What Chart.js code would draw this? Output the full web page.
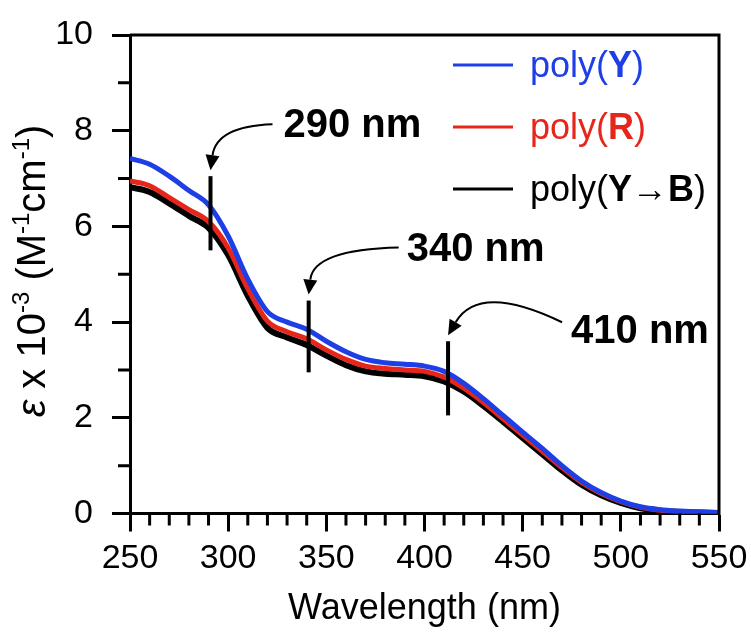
<!DOCTYPE html>
<html>
<head>
<meta charset="utf-8">
<script src="https://cdn.jsdelivr.net/npm/chart.js@4.4.0/dist/chart.umd.min.js"></script>
<style>
  html, body { margin: 0; padding: 0; background: #fff; }
  #contenedor { width: 751px; height: 639px; }
</style>
</head>
<body>
<div id="contenedor"><canvas id="grafico"></canvas></div>
<script>
const longitudes = [250, 260, 270, 280, 290, 300, 310, 320, 330, 340, 350, 360, 370, 380, 390, 400,
                    410, 420, 430, 440, 450, 460, 470, 480, 490, 500, 510, 520, 530, 540, 550];
const polyY  = [7.42, 7.30, 7.05, 6.75, 6.45, 5.80, 4.90, 4.22, 4.00, 3.85, 3.60, 3.38, 3.22, 3.15, 3.12, 3.08,
                2.97, 2.72, 2.40, 2.05, 1.70, 1.36, 1.00, 0.68, 0.44, 0.26, 0.14, 0.08, 0.05, 0.03, 0.02];
const polyR  = [6.95, 6.85, 6.60, 6.35, 6.10, 5.55, 4.70, 4.02, 3.80, 3.65, 3.42, 3.22, 3.08, 3.03, 3.00, 2.97,
                2.85, 2.62, 2.32, 1.98, 1.64, 1.30, 0.96, 0.65, 0.42, 0.25, 0.13, 0.07, 0.04, 0.03, 0.02];
const polyYB = [6.82, 6.72, 6.48, 6.22, 5.97, 5.40, 4.55, 3.88, 3.68, 3.52, 3.30, 3.10, 2.97, 2.92, 2.90, 2.87,
                2.76, 2.55, 2.25, 1.92, 1.58, 1.24, 0.90, 0.60, 0.38, 0.22, 0.11, 0.06, 0.03, 0.02, 0.01];

const ticksX = [250, 300, 350, 400, 450, 500, 550];
const ticksY = [0, 2, 4, 6, 8, 10];

// marcas verticales y sus etiquetas
const marcas = [291, 341, 412];
const marcasDesde = [5.5, 2.95, 2.05];
const marcasHasta = [7.05, 4.45, 3.6];
const etiquetas = ['290 nm', '340 nm', '410 nm'];

const AZUL = '#1f3fe6';
const ROJO = '#e6261a';
const FUENTE = '"Liberation Sans", Arial, Helvetica, sans-serif';

function puntos(serie) {
    return longitudes.map((x, i) => ({ x: x, y: serie[i] }));
}

// etiqueta y flecha relativas al extremo superior de cada marca (px)
const flechas = [
    { lx: 73, ly: -50, sx: 62, sy: -52, cx: 6, cy: -50 },
    { lx: 98, ly: -51, sx: 90, sy: -53, cx: 5, cy: -51 },
    { lx: 123, ly: -9, sx: 114, sy: -19, cx: 31, cy: -59 }
];

const leyenda = [
    { color: AZUL, partes: [['poly(', false], ['Y', true], [')', false]] },
    { color: ROJO, partes: [['poly(', false], ['R', true], [')', false]] },
    { color: '#000', partes: [['poly(', false], ['Y\u2192B', true], [')', false]] }
];

const extras = {
    id: 'extras',
    afterDraw(chart) {
        const ctx = chart.ctx;
        const a = chart.chartArea;
        const sx = chart.scales.x, sy = chart.scales.y;
        ctx.save();
        ctx.strokeStyle = '#000';
        ctx.fillStyle = '#000';
        ctx.lineWidth = 3;
        // marco superior y derecho
        ctx.beginPath();
        ctx.moveTo(a.left, a.top);
        ctx.lineTo(a.right, a.top);
        ctx.lineTo(a.right, a.bottom + 1.5);
        ctx.stroke();
        // ticks menores
        ctx.beginPath();
        for (let v = 250; v <= 550; v += 10) {
            if (v % 50 === 0) continue;
            const px = sx.getPixelForValue(v);
            ctx.moveTo(px, a.bottom);
            ctx.lineTo(px, a.bottom + 12);
        }
        for (let v = 1; v < 10; v += 2) {
            const py = sy.getPixelForValue(v);
            ctx.moveTo(a.left, py);
            ctx.lineTo(a.left - 12, py);
        }
        ctx.stroke();

        // marcas, etiquetas y flechas
        marcas.forEach((m, i) => {
            const x = sx.getPixelForValue(m);
            const y0 = sy.getPixelForValue(marcasDesde[i]);
            const y1 = sy.getPixelForValue(marcasHasta[i]);
            ctx.lineWidth = 4;
            ctx.beginPath();
            ctx.moveTo(x, y0);
            ctx.lineTo(x, y1);
            ctx.stroke();

            const f = flechas[i];
            ctx.font = 'bold 40px ' + FUENTE;
            ctx.textAlign = 'left';
            ctx.textBaseline = 'middle';
            ctx.fillText(etiquetas[i], x + f.lx, y1 + f.ly);

            const ex = x, ey = y1 - 6;
            const cx = x + f.cx, cy = y1 + f.cy;
            const ang = Math.atan2(ey - cy, ex - cx);
            const largo = 15, ancho = 7;
            const bx = ex - largo * Math.cos(ang), by = ey - largo * Math.sin(ang);
            ctx.lineWidth = 2;
            ctx.beginPath();
            ctx.moveTo(x + f.sx, y1 + f.sy);
            ctx.quadraticCurveTo(cx, cy, bx, by);
            ctx.stroke();
            ctx.beginPath();
            ctx.moveTo(ex, ey);
            ctx.lineTo(bx + ancho * Math.sin(ang), by - ancho * Math.cos(ang));
            ctx.lineTo(bx - ancho * Math.sin(ang), by + ancho * Math.cos(ang));
            ctx.closePath();
            ctx.fill();
        });

        // leyenda
        leyenda.forEach((item, i) => {
            const y = a.top + 30 + i * 62;
            const x0 = a.right - 266;
            ctx.strokeStyle = item.color;
            ctx.fillStyle = item.color;
            ctx.lineWidth = 3;
            ctx.beginPath();
            ctx.moveTo(x0, y);
            ctx.lineTo(x0 + 60, y);
            ctx.stroke();
            let tx = x0 + 77;
            ctx.textAlign = 'left';
            ctx.textBaseline = 'middle';
            item.partes.forEach(([txt, negrita]) => {
                ctx.font = (negrita ? 'bold ' : '') + '36px ' + FUENTE;
                ctx.fillText(txt, tx, y + 2);
                tx += ctx.measureText(txt).width;
            });
        });

        // titulos de ejes
        ctx.fillStyle = '#000';
        ctx.font = '36px ' + FUENTE;
        ctx.textAlign = 'center';
        ctx.textBaseline = 'middle';
        ctx.fillText('Wavelength (nm)', (a.left + a.right) / 2, 609);

        const partesY = [
            ['\u03b5', 'italic 40px ', false],
            [' x 10', '40px ', false],
            ['-3', '24px ', true],
            [' (M', '40px ', false],
            ['-1', '24px ', true],
            ['cm', '40px ', false],
            ['-1', '24px ', true],
            [')', '40px ', false]
        ];
        let total = 0;
        partesY.forEach(p => { ctx.font = p[1] + FUENTE; total += ctx.measureText(p[0]).width; });
        ctx.translate(34, 271);
        ctx.rotate(-Math.PI / 2);
        ctx.textAlign = 'left';
        let px = -total / 2;
        partesY.forEach(p => {
            ctx.font = p[1] + FUENTE;
            ctx.fillText(p[0], px, p[2] ? -12 : 0);
            px += ctx.measureText(p[0]).width;
        });
        ctx.restore();
    }
};

const ctx = document.getElementById('grafico');

new Chart(ctx, {
    type: 'line',
    data: {
        datasets: [
            { label: 'poly(Y)', data: puntos(polyY), borderColor: AZUL, borderWidth: 5 },
            { label: 'poly(R)', data: puntos(polyR), borderColor: ROJO, borderWidth: 5 },
            { label: 'poly(Y\u2192B)', data: puntos(polyYB), borderColor: '#000', borderWidth: 6 }
        ]
    },
    options: {
        responsive: true,
        maintainAspectRatio: false,
        animation: false,
        layout: { padding: { top: 35, right: 32, left: 0, bottom: 0 } },
        elements: {
            point: { radius: 0 },
            line: { cubicInterpolationMode: 'monotone', fill: false }
        },
        plugins: { legend: { display: false }, tooltip: { enabled: false } },
        scales: {
            x: {
                type: 'linear', min: 250, max: 550,
                afterBuildTicks: s => { s.ticks = ticksX.map(v => ({ value: v })); },
                afterFit: s => { s.height = 125.5; s.paddingLeft = 0; s.paddingRight = 0; },
                ticks: { color: '#000', font: { size: 34, family: FUENTE }, padding: 7, maxRotation: 0, autoSkip: false },
                grid: { drawOnChartArea: false, tickLength: 18, tickWidth: 3, tickColor: '#000' },
                border: { display: true, width: 3, color: '#000' }
            },
            y: {
                min: 0, max: 10,
                afterBuildTicks: s => { s.ticks = ticksY.map(v => ({ value: v })); },
                afterFit: s => { s.width = 130; s.paddingTop = 0; s.paddingBottom = 0; },
                ticks: { color: '#000', font: { size: 34, family: FUENTE }, padding: 19 },
                grid: { drawOnChartArea: false, tickLength: 18, tickWidth: 3, tickColor: '#000' },
                border: { display: true, width: 3, color: '#000' }
            }
        }
    },
    plugins: [extras]
});
</script>
</body>
</html>
